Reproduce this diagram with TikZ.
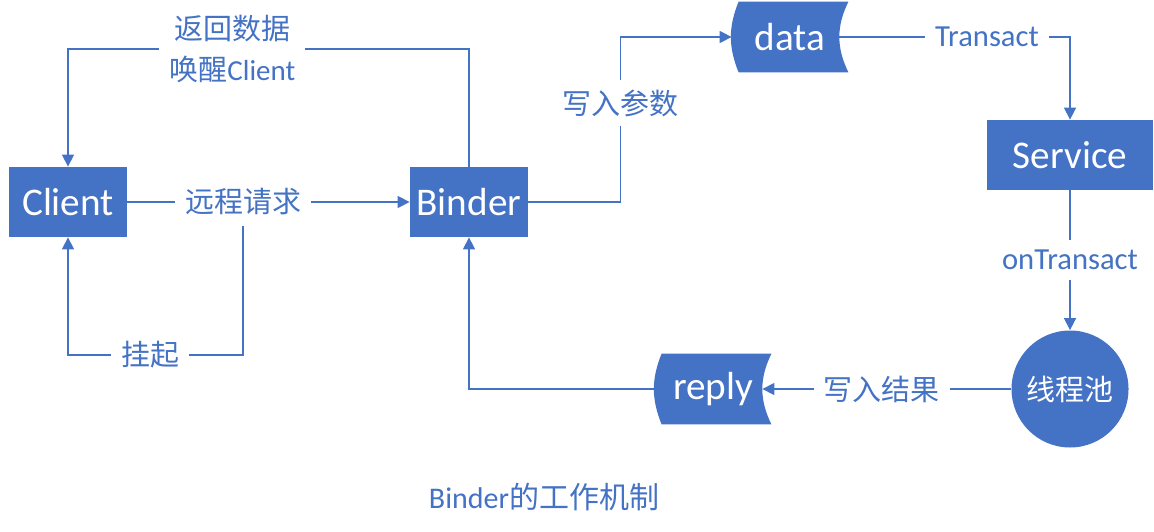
\documentclass[tikz,border=0pt]{standalone}
\usepackage{fontspec}
\setmainfont{Carlito}
\newfontfamily\cjk{Noto Sans CJK SC}
\usetikzlibrary{arrows.meta,positioning,backgrounds}
\definecolor{office}{RGB}{68,114,196}
\tikzset{
  box/.style={fill=office,text=white,inner sep=0pt,minimum width=59pt,minimum height=35pt,font=\fontsize{19.6}{22}\selectfont},
  store/.style={text=white,inner sep=0pt,minimum width=58pt,minimum height=35pt,font=\fontsize{19.6}{22}\selectfont},
  lbl/.style={fill=white,text=office,inner sep=5pt,font=\fontsize{14.5}{20.5}\selectfont},
  latinlbl/.style={lbl,font=\fontsize{15.3}{20.5}\selectfont},
  arr/.style={draw=office,line width=0.75pt,-{Triangle[length=6pt,width=6pt]}}
}
\newcommand{\storeshape}[1]{%
  \fill[office] ([xshift=3.5pt]#1.north west) to[bend right=22] ([xshift=3.5pt]#1.south west)
    -- (#1.south east) to[bend left=26] (#1.north east) -- cycle;}

\begin{document}
\begin{tikzpicture}[x=0.5pt,y=0.5pt]
  \useasboundingbox (0,0) rectangle (1154,531);
  \coordinate (toprail) at (0,482);
  \coordinate (lowrail) at (0,176);

  \node[box] (client) at (68,329) {Client};
  \node[box] (binder) at (469,329) {Binder};
  \node[store] (data) at (790,494) {data};
  \node[box,minimum width=83pt] (service) at (1070,376) {Service};
  \node[circle,fill=office,text=white,inner sep=0pt,minimum size=58.5pt,font=\cjk\fontsize{14.5}{17}\selectfont] (pool) at (1070,142) {线程池};
  \node[store] (reply) at (713,142) {reply};
  \begin{scope}[on background layer]
    \storeshape{data}
    \storeshape{reply}
  \end{scope}

  \draw[arr] (client) -- node[lbl,pos=0.41] (request) {\cjk 远程请求} (binder);
  \draw[arr] (request.south) -- (request.south |- lowrail) -- node[lbl,pos=0.53] (hang) {\cjk 挂起} (client.south |- lowrail) -- (client.south);
  \draw[arr] (binder.north) -- (binder.north |- toprail) -- node[lbl,pos=0.59,align=center] (wake) {{\cjk 返回数据}\\{\cjk 唤醒}Client} (client.north |- toprail) -- (client.north);
  \draw[arr] (binder.east) -- ++(92,0) |- node[lbl,pos=0.3] (param) {\cjk 写入参数} (data.west);
  \draw[arr] ([xshift=-4.5pt]data.east) -| node[latinlbl,pos=0.32] (transact) {Transact} (service.north);
  \draw[arr] (service) -- node[latinlbl] (ontransact) {onTransact} (pool);
  \draw[arr] (pool) -- node[lbl,pos=0.52] (result) {\cjk 写入结果} ([xshift=-4.5pt]reply.east);
  \draw[arr] (reply.west) -| (binder.south);

  \node[text=office,font=\fontsize{15}{17}\selectfont] (caption) at (544,34) {Binder{\cjk 的工作机制}};
\end{tikzpicture}
\end{document}
